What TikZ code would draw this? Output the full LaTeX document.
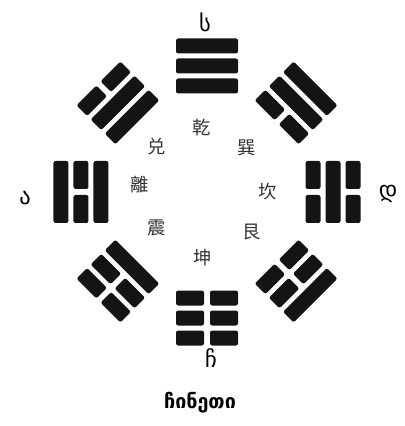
\documentclass[tikz,border=0pt]{standalone}
\usepackage{fontspec}
\usetikzlibrary{positioning}
\newfontfamily\geofont{DejaVu Sans}
\newfontfamily\hanfont{Noto Sans CJK TC}

% one trigram: rotation, then lines from inner to outer (1 solid, 0 broken)
\newcommand{\gua}[4]{%
  \begin{scope}[rotate=#1]
    \foreach \r/\t in {106/#2,126/#3,146/#4}{
      \ifnum\t=1
        \fill[yao] (-31,\r-7.5) rectangle (31,\r+7.5);
      \else
        \fill[yao] (-31,\r-7.5) rectangle (-3,\r+7.5);
        \fill[yao] (3,\r-7.5) rectangle (31,\r+7.5);
      \fi}
  \end{scope}}

\begin{document}
\begin{tikzpicture}[x=0.025cm,y=0.025cm,
  yao/.style={fill=black!92,rounded corners=1.5pt},
  han/.style={font=\hanfont\fontsize{13}{15}\selectfont,text=black!80,inner sep=0pt},
  side/.style={font=\geofont\fontsize{16}{18}\selectfont,inner sep=0pt}]
 \useasboundingbox (-207,-234) rectangle (197,192);
 % the eight trigrams
 \gua{0}{1}{1}{1}
 \gua{45}{1}{1}{0}
 \gua{90}{1}{0}{1}
 \gua{135}{1}{0}{0}
 \gua{180}{0}{0}{0}
 \gua{225}{0}{0}{1}
 \gua{270}{0}{1}{0}
 \gua{315}{0}{1}{1}
 % names of the trigrams
 \node[han] (qian) at (-5,64) {乾};
 \node[han] (dui) at (-50,45) {兑};
 \node[han] (li) at (-67,7) {離};
 \node[han] (zhen) at (-50,-36) {震};
 \node[han] (kun) at (-4,-66) {坤};
 \node[han] (gen) at (45,-40) {艮};
 \node[han] (kan) at (61,0) {坎};
 \node[han] (xun) at (40,44) {巽};
 % directions
 \node[side] (north) at (-2,170) {ს};
 \node[side] (west) at (-182,-6) {ა};
 \node[side] (east) at (181,-2) {დ};
 \node[side] (south) at (4,-166) {ჩ};
 \node[font=\geofont\bfseries\fontsize{14}{16}\selectfont] (caption)
    at (-7,-211) {ჩინეთი};
\end{tikzpicture}
\end{document}
